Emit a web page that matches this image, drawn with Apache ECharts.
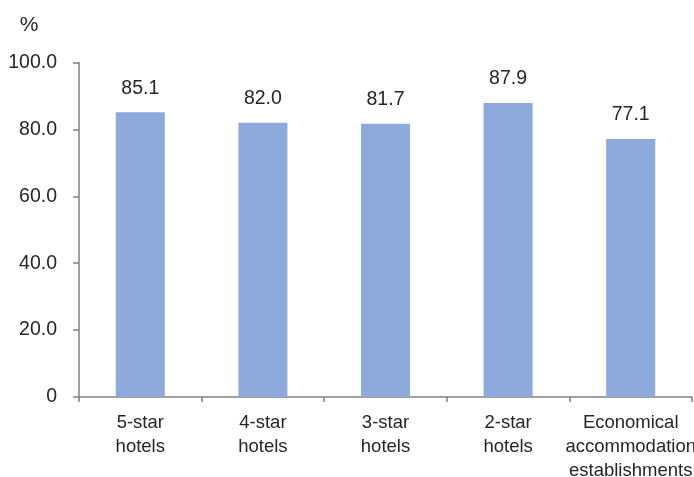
<!DOCTYPE html>
<html><head><meta charset="utf-8">
<script src="https://cdn.jsdelivr.net/npm/echarts@6/dist/echarts.min.js"></script>
<style>html,body{margin:0;padding:0;background:#fff}#c{width:694px;height:477px}</style>
</head><body><div id="c"></div>
<script>
var categories = ["5-star\nhotels", "4-star\nhotels", "3-star\nhotels", "2-star\nhotels", "Economical\naccommodation\nestablishments"];
var values = [85.1, 82.0, 81.7, 87.9, 77.1];
var yTicks = [0, 20, 40, 60, 80, 100];
var FONT = "'Liberation Sans', Arial, sans-serif";
var chart = echarts.init(document.getElementById('c'), null, {renderer: 'canvas'});
chart.setOption({
  animation: false,
  backgroundColor: '#fff',
  grid: {left: 79, right: 2, top: 62.5, bottom: 80, containLabel: false, outerBoundsMode: 'none'},
  graphic: [{type: 'text', x: 29, y: 25, style: {text: '%', fontSize: 21, fontFamily: FONT, fill: '#262626', align: 'center', verticalAlign: 'middle'}}],
  xAxis: {
    type: 'category', data: categories,
    axisLine: {lineStyle: {color: '#808080', width: 1.5}},
    axisTick: {show: true, length: 5, lineStyle: {color: '#808080', width: 1.5}},
    axisLabel: {color: '#262626', fontSize: 18.5, fontFamily: FONT, lineHeight: 24, margin: 14, interval: 0, hideOverlap: false}
  },
  yAxis: {
    type: 'value', min: 0, max: 100, interval: 20,
    splitLine: {show: false},
    axisLine: {show: true, lineStyle: {color: '#808080', width: 1.5}},
    axisTick: {show: true, length: 6, lineStyle: {color: '#808080', width: 1.5}},
    axisLabel: {color: '#262626', fontSize: 19.5, fontFamily: FONT, margin: 22,
      formatter: function (v) { return yTicks.indexOf(v) >= 0 ? (v === 0 ? '0' : v.toFixed(1)) : ''; }}
  },
  series: [{
    type: 'bar', data: values, barWidth: '40%',
    itemStyle: {color: '#8EA9DB'},
    label: {show: true, position: 'top', distance: 14, color: '#262626', fontSize: 19.5, fontFamily: FONT,
      formatter: function (p) { return p.value.toFixed(1); }}
  }]
});
</script></body></html>
